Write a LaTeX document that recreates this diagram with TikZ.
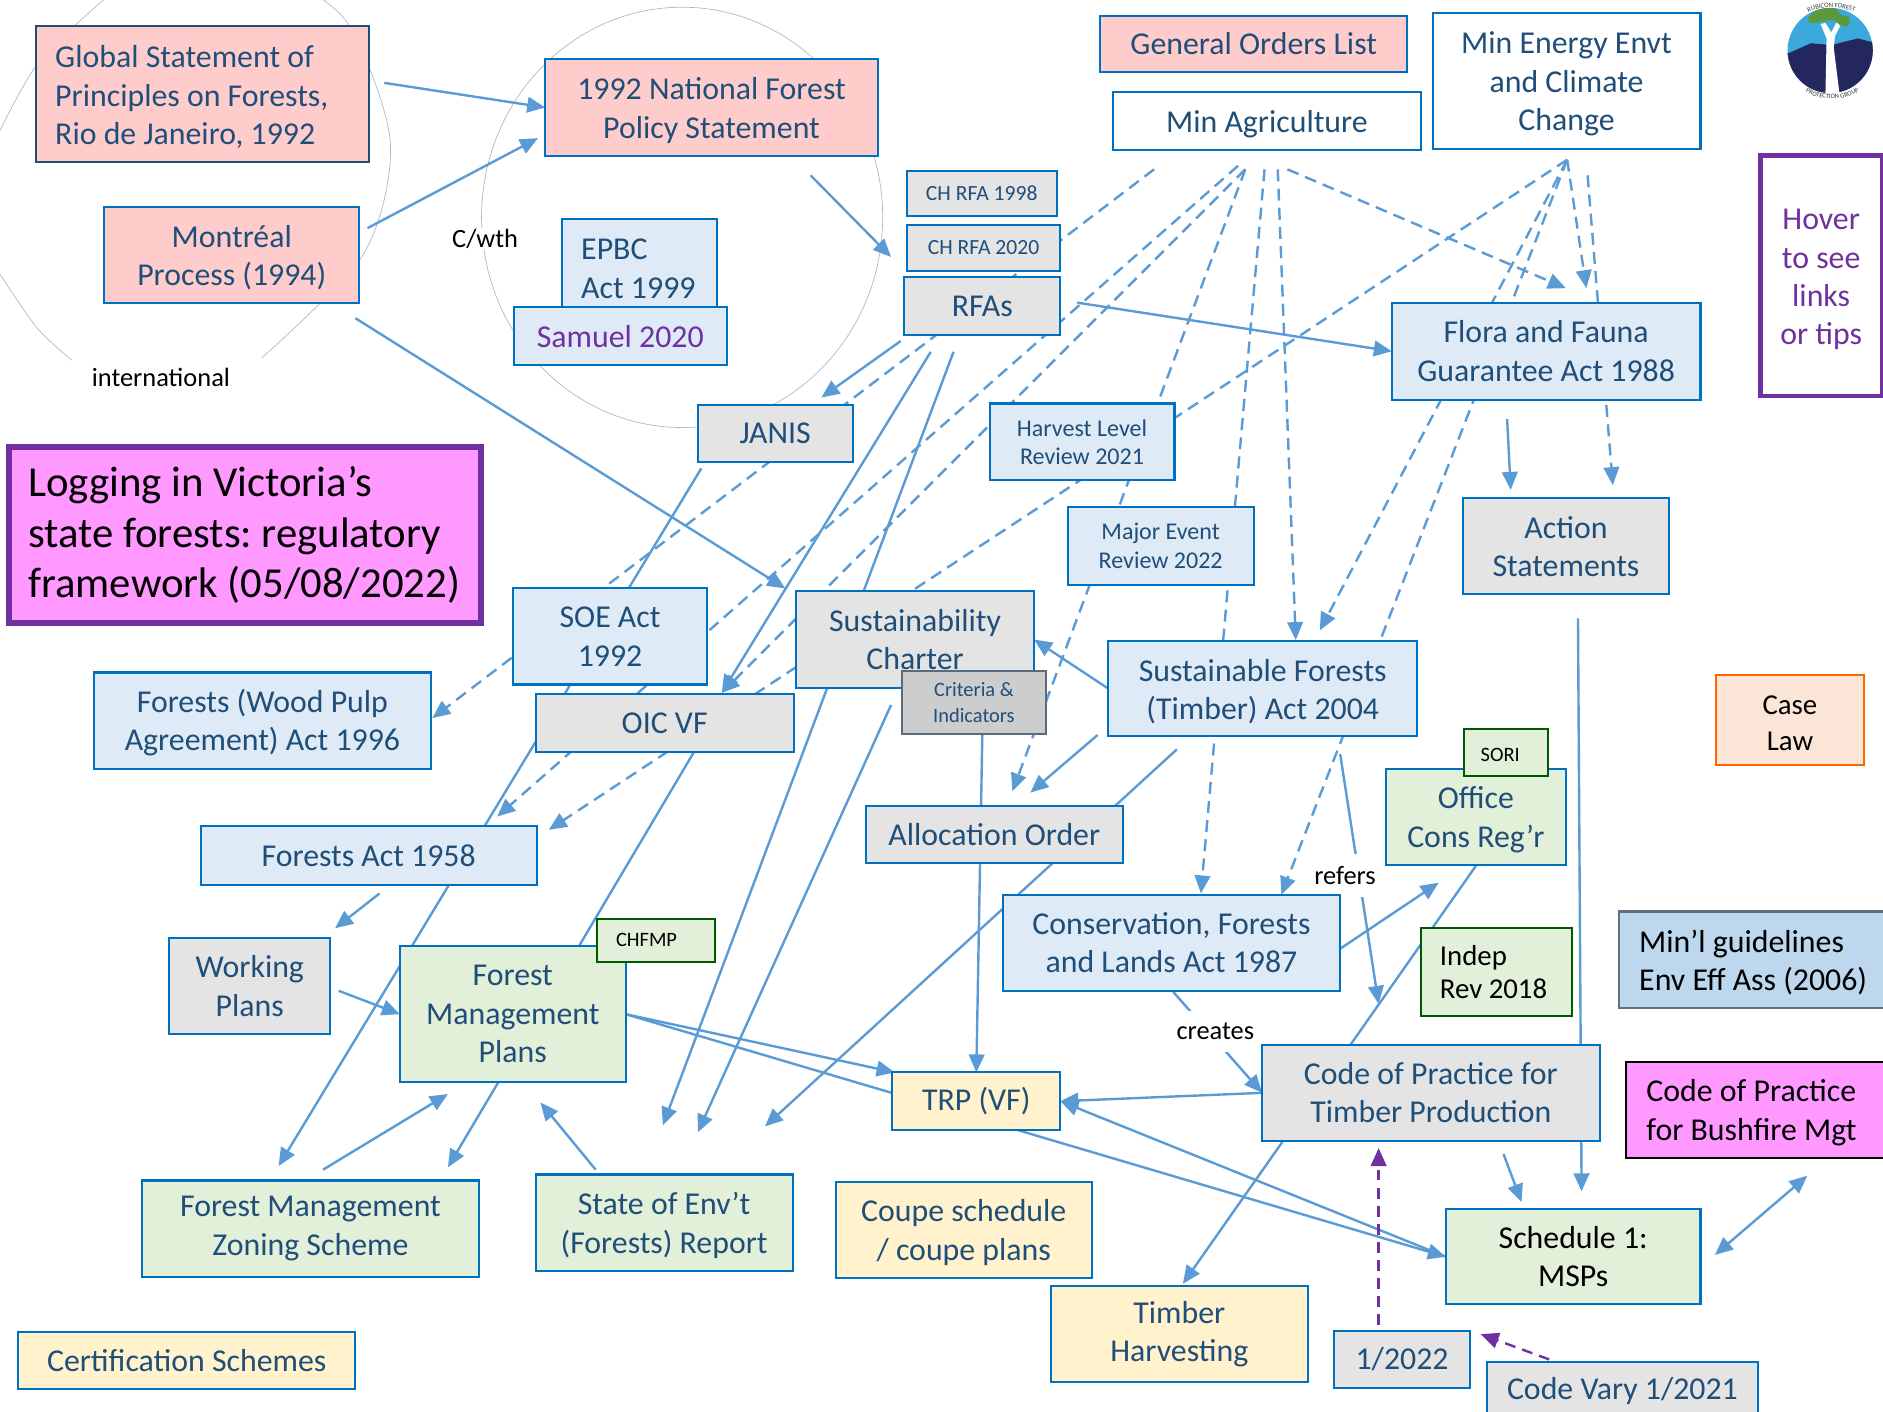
\documentclass[tikz,border=0pt]{standalone}
\usepackage{fontspec}
\setmainfont{Carlito}
\usetikzlibrary{arrows.meta,backgrounds,decorations.text}
\definecolor{txtblue}{HTML}{1F4E79}
\definecolor{edgeblue}{HTML}{0070C0}
\definecolor{arrowblue}{HTML}{5B9BD5}
\definecolor{purp}{HTML}{7030A0}
\definecolor{pinkfill}{HTML}{FFCCCC}
\definecolor{bluefill}{HTML}{DEEAF6}
\definecolor{greyfill}{HTML}{E4E4E4}
\definecolor{greenfill}{HTML}{E2EFD9}
\definecolor{yellowfill}{HTML}{FFF2CC}
\definecolor{magfill}{HTML}{FF99FF}
\definecolor{peachfill}{HTML}{FBE5D6}
\definecolor{midblue}{HTML}{BDD7EE}
\definecolor{ringcol}{HTML}{A9BCCF}
\definecolor{skycol}{HTML}{3BA9DC}
\definecolor{hillcol}{HTML}{24275E}
\definecolor{leafcol}{HTML}{5A9A3C}
\newcommand{\lnn}[1]{\mbox{\spaceskip=0pt \xspaceskip=0pt \frenchspacing #1}}
\newcommand{\dn}{\rule{0pt}{\dimexpr 0.78em+2.5pt\relax}}
\newcommand{\boxn}[7]{%
  \pgfmathsetmacro\bxw{#5-#3}%
  \pgfmathsetmacro\bxh{#6-#4}%
  \node[#1,minimum width=\bxw pt,minimum height=\bxh pt] (#2) at ({(#3+#5)/2},{(#4+#6)/2}) {#7};%
}
\tikzset{
  x=1pt,y=-1pt,
  base/.style={draw=edgeblue,line width=1.7pt,inner sep=0pt,outer sep=0pt,align=center,text=txtblue,
     font=\fontsize{26.5}{32}\selectfont},
  pinkb/.style={base,fill=pinkfill},
  blueb/.style={base,fill=bluefill},
  greyb/.style={base,fill=greyfill},
  greenb/.style={base,fill=greenfill},
  yellowb/.style={base,fill=yellowfill},
  whiteb/.style={base,fill=white},
  smallt/.style={font=\fontsize{20}{23.5}\selectfont},
  lab/.style={fill=white,inner sep=2pt,text=black,font=\fontsize{22}{24}\selectfont},
  conn/.style={draw=arrowblue,line width=2pt,-{Triangle[length=15pt,width=13pt]}},
  plain/.style={draw=arrowblue,line width=2pt},
  dconn/.style={conn,dash pattern=on 10pt off 6pt},
  pconn/.style={draw=purp,line width=2pt,dash pattern=on 9pt off 6pt,-{Triangle[length=15pt,width=13pt]}},
  ring/.style={draw=ringcol,line width=0.6pt},
}
\begin{document}
\begin{tikzpicture}
\useasboundingbox (0,0) rectangle (1568,1175);
% free labels
\node[lab,inner sep=1pt] (cwth) at (404,199) {C/wth};
\node[lab,fill=none] (intl) at (134,314) {international};
\node[lab,inner xsep=3pt,inner ysep=10pt] (refers) at (1120,729) {refers};
\node[lab,inner xsep=3pt,inner ysep=10pt] (creates) at (1012,859) {creates};
% boxes
\boxn{pinkb,draw=txtblue,text width=245pt,align=left}{globalst}{30}{22}{307}{135}{\dn\lnn{Global Statement of}\\\lnn{Principles on Forests,}\\\lnn{Rio de Janeiro, 1992}}
\boxn{pinkb}{nfps}{454}{49}{731}{130}{\dn 1992 National Forest\\Policy Statement}
\boxn{pinkb}{montreal}{87}{172}{299}{252}{\dn Montréal\\Process (1994)}
\boxn{pinkb}{genorders}{916}{13}{1172}{60}{General Orders List}
\boxn{whiteb}{minag}{927}{77}{1183}{125}{\dn Min Agriculture}
\boxn{whiteb}{minenergy}{1193}{11}{1416}{124}{\dn Min Energy Envt\\and Climate\\Change}
\boxn{greyb,font=\fontsize{18}{24}\selectfont}{chrfaa}{755}{142}{880}{180}{CH RFA 1998}
\boxn{greyb,font=\fontsize{18}{24}\selectfont}{chrfab}{755}{187}{883}{226}{CH RFA 2020}
\boxn{greyb}{rfas}{753}{231}{883}{279}{RFAs}
\boxn{blueb,text width=97pt,align=left}{epbc}{468}{182}{597}{260}{\dn\lnn{EPBC}\\\lnn{Act 1999}}
\boxn{blueb,text=purp}{samuel}{428}{256}{605}{304}{Samuel 2020}
\boxn{greyb}{janis}{581}{337}{710}{385}{JANIS}
\boxn{base,fill=magfill,draw=purp,line width=5pt,text=black,font=\fontsize{35.6}{42}\selectfont,text width=361pt,align=left}{title}{7.5}{372.5}{400.5}{518.5}{\lnn{Logging in Victoria’s}\\\lnn{state forests: regulatory}\\\lnn{framework (05/08/2022)}}
\boxn{blueb,smallt}{harvest}{824}{336}{978}{400}{Harvest Level\\Review 2021}
\boxn{blueb,smallt}{majorev}{889}{422}{1044}{487}{Major Event\\Review 2022}
\boxn{blueb}{flora}{1159}{252}{1416}{333}{Flora and Fauna\\Guarantee Act 1988}
\boxn{greyb}{action}{1218}{415}{1390}{495}{Action\\Statements}
\boxn{base,fill=white,draw=purp,line width=3.5pt,text=purp}{hover}{1466}{129.5}{1567}{330}{\dn Hover\\to see\\links\\or tips}
\boxn{blueb}{soe}{427}{490}{589}{570}{SOE Act\\1992}
\boxn{greyb}{charter}{663}{492}{861}{573}{Sustainability\\Charter}
\boxn{greyb,draw=gray!60!txtblue,fill=greyfill!90!black,font=\fontsize{17}{21}\selectfont}{criteria}{751}{559}{871}{611}{Criteria \&\\Indicators}
\boxn{blueb}{sfta}{923}{534}{1180}{613}{\dn Sustainable Forests\\(Timber) Act 2004}
\boxn{greyb}{oic}{446}{578}{661}{626}{OIC VF}
\boxn{blueb}{woodpulp}{78}{560}{359}{640}{\dn Forests (Wood Pulp\\Agreement) Act 1996}
\boxn{blueb}{forestsact}{167}{688}{447}{737}{Forests Act 1958}
\boxn{greyb}{alloc}{721}{671}{935}{719}{Allocation Order}
\boxn{greenb}{office}{1154}{640}{1304}{720}{\dn Office\\Cons Reg’r}
\boxn{greenb,draw=green!35!black,text=black,font=\fontsize{17}{21}\selectfont,text width=42pt,align=left}{sori}{1219}{607}{1289}{646}{\dn\lnn{SORI}}
\boxn{base,fill=peachfill,draw=orange!80!red,text=black,font=\fontsize{24}{30}\selectfont}{caselaw}{1429}{562}{1552}{637}{\dn Case\\Law}
\boxn{blueb}{cfla}{835}{745}{1116}{825}{Conservation, Forests\\and Lands Act 1987}
\boxn{greenb,draw=green!35!black,text=black,font=\fontsize{24}{28}\selectfont,text width=94pt,align=left}{indep}{1183}{773}{1309}{846}{\lnn{Indep}\\\lnn{Rev 2018}}
\boxn{base,fill=midblue,draw=gray!70!txtblue,text=black,text width=188pt,align=left}{minl}{1348}{759}{1570}{839}{\dn\lnn{Min’l guidelines}\\\lnn{Env Eff Ass (2006)}}
\boxn{greyb}{working}{141}{781}{275}{861}{Working\\Plans}
\boxn{greenb}{fmp}{333}{788}{521}{901}{Forest\\Management\\Plans}
\boxn{greenb,draw=green!35!black,text=black,font=\fontsize{17}{21}\selectfont,text width=66pt,align=left}{chfmp}{497}{765}{595}{801}{\lnn{CHFMP}}
\boxn{yellowb}{trp}{743}{893}{883}{941}{TRP (VF)}
\boxn{greyb}{cop}{1051}{870}{1332}{950}{Code of Practice for\\Timber Production}
\boxn{base,fill=magfill,draw=black,text=black,text width=182pt,align=left}{bushfire}{1354}{884}{1570}{964}{\dn\lnn{Code of Practice}\\\lnn{for Bushfire Mgt}}
\boxn{greenb}{fmzs}{118}{983}{399}{1063}{Forest Management\\Zoning Scheme}
\boxn{greenb}{soer}{446}{978}{660}{1058}{\dn State of Env’t\\(Forests) Report}
\boxn{yellowb}{coupe}{696}{984}{909}{1064}{\dn Coupe schedule\\/ coupe plans}
\boxn{greenb,text=black}{schedule}{1204}{1007}{1416}{1086}{Schedule 1:\\MSPs}
\boxn{yellowb}{timberh}{875}{1071}{1089}{1151}{Timber\\Harvesting}
\boxn{greyb}{jan22}{1111}{1108}{1224}{1156}{1/2022}
\boxn{greyb}{codevary}{1238}{1134}{1464}{1182}{Code Vary 1/2021}
\boxn{yellowb}{certif}{15}{1109}{296}{1157}{Certification Schemes}
% free ends of connectors
\coordinate (gsTail) at (320,69);
\coordinate (moTail) at (306,190);
\coordinate (nfHead) at (448,115);
\coordinate (nfTail) at (675,146);
\coordinate (rfaHead) at (742,214);
\coordinate (rfTail) at (897,252);
\coordinate (rjTail) at (750,284);
\coordinate (janHead) at (684,331);
\coordinate (mchTail) at (296,265);
\coordinate (chHead) at (654,490);
\coordinate (roTail) at (775,293);
\coordinate (oicHead) at (601,577);
\coordinate (rsTail) at (794,293);
\coordinate (soeA) at (552,937);
\coordinate (jaTail) at (584,390);
\coordinate (fmzA) at (232,971);
\coordinate (ofTail) at (578,626);
\coordinate (fmzB) at (373,972);
\coordinate (crTail) at (742,587);
\coordinate (soeB) at (581,943);
\coordinate (alTail) at (980,624);
\coordinate (soeC) at (637,938);
\coordinate (crDown) at (818,611);
\coordinate (sfaTail) at (914,612);
\coordinate (alHead) at (858,660);
\coordinate (cfTail) at (1116,790);
\coordinate (ofHead) at (1198,735);
\coordinate (rfStart) at (1116,628);
\coordinate (cpHeadA) at (1148,836);
\coordinate (crStart) at (977,826);
\coordinate (opTail) at (1229,721);
\coordinate (thHead) at (985,1069);
\coordinate (acTail) at (1314,515);
\coordinate (scHeadA) at (1317,992);
\coordinate (flTail) at (1255,349);
\coordinate (acHeadA) at (1258,408);
\coordinate (trpHeadB) at (745,893);
\coordinate (cpTail) at (1252,961);
\coordinate (scHeadB) at (1267,1001);
\coordinate (scSide) at (1428,1045);
\coordinate (bfSide) at (1505,979);
\coordinate (faTail) at (316,744);
\coordinate (woHead) at (279,773);
\coordinate (woTail) at (282,825);
\coordinate (zsTail) at (269,974);
\coordinate (fmHeadA) at (373,911);
\coordinate (srTail) at (496,974);
\coordinate (fmHeadB) at (450,918);
% dashed free ends
\coordinate (agA) at (961,141);
\coordinate (wpHead) at (360,598);
\coordinate (agB) at (1031,138);
\coordinate (faHeadA) at (414,680);
\coordinate (agC) at (1037,141);
\coordinate (alHeadB) at (843,659);
\coordinate (agD) at (1053,141);
\coordinate (cfHeadA) at (1000,744);
\coordinate (agE) at (1064,141);
\coordinate (sfHeadA) at (1079,533);
\coordinate (agF) at (1072,141);
\coordinate (flHeadA) at (1304,240);
\coordinate (enA) at (1305,133);
\coordinate (faHeadB) at (457,691);
\coordinate (sfHeadB) at (1099,525);
\coordinate (cfHeadB) at (1067,745);
\coordinate (flHeadB) at (1321,240);
\coordinate (enB) at (1322,146);
\coordinate (acHeadB) at (1343,404);
\coordinate (pA) at (1148,1103);
\coordinate (pAh) at (1148,956);
\coordinate (pB) at (1290,1132);
\coordinate (pBh) at (1233,1111);
\begin{scope}[on background layer]
% rings
\draw[ring] plot[smooth] coordinates {(-8,125) (30,55) (86,0) (110,-15)};
\draw[ring] plot[smooth] coordinates {(240,-18) (290,20) (325,118) (303,211) (218,298)};
\draw[ring] plot[smooth] coordinates {(-8,216) (30,272) (60,300)};
\draw[ring] (568,181) ellipse[x radius=167,y radius=175];
% solid connectors
\draw[conn] (gsTail) -- (nfps.west);
\draw[conn] (moTail) -- (nfHead);
\draw[conn] (nfTail) -- (rfaHead);
\draw[conn] (rfTail) -- (flora.west);
\draw[conn] (rjTail) -- (janHead);
\draw[conn] (mchTail) -- (chHead);
\draw[conn] (roTail) -- (oicHead);
\draw[conn] (rsTail) -- (soeA);
\draw[conn] (jaTail) -- (fmzA);
\draw[conn] (ofTail) -- (fmzB);
\draw[conn] (crTail) -- (soeB);
\draw[conn] (alTail) -- (soeC);
\draw[conn] (crDown) -- (trp.north);
\draw[conn] (sfaTail) -- (alHead);
\draw[conn] (sfta.west) -- (charter.east);
\draw[conn] (cfTail) -- (ofHead);
\draw[conn] (rfStart) -- (cpHeadA);
\draw[conn] (crStart) -- (cop.west);
\draw[conn] (opTail) -- (thHead);
\draw[conn] (acTail) -- (scHeadA);
\draw[conn] (flTail) -- (acHeadA);
\draw[conn] (cop.west) -- (trp.east);
\draw[conn] (schedule.west) -- (trp.east);
\draw[conn] (fmp.east) -- (schedule.west);
\draw[conn] (fmp.east) -- (trpHeadB);
\draw[conn] (cpTail) -- (scHeadB);
\draw[conn,{Triangle[length=15pt,width=13pt]}-{Triangle[length=15pt,width=13pt]}] (scSide) -- (bfSide);
\draw[conn] (faTail) -- (woHead);
\draw[conn] (woTail) -- (fmp.west);
\draw[conn] (zsTail) -- (fmHeadA);
\draw[conn] (srTail) -- (fmHeadB);
% dashed connectors
\draw[dconn] (agA) -- (wpHead);
\draw[dconn] (agB) -- (faHeadA);
\draw[dconn] (agC) -- (oicHead);
\draw[dconn] (agC) -- (alHeadB);
\draw[dconn] (agD) -- (cfHeadA);
\draw[dconn] (agE) -- (sfHeadA);
\draw[dconn] (agF) -- (flHeadA);
\draw[dconn] (enA) -- (faHeadB);
\draw[dconn] (enA) -- (sfHeadB);
\draw[dconn] (enA) -- (cfHeadB);
\draw[dconn] (enA) -- (flHeadB);
\draw[dconn] (enB) -- (acHeadB);
\draw[pconn] (pA) -- (pAh);
\draw[pconn] (pB) -- (pBh);
\end{scope}
% logo
\begin{scope}
\clip (1524,42) circle[radius=35.5];
\fill[skycol] (1480,0) rectangle (1570,85);
\fill[hillcol] (1485,45) -- (1490,44) -- (1508,36) -- (1525,37.5) -- (1547,32) -- (1562,36) -- (1565,85) -- (1485,85) -- cycle;
\end{scope}
\fill[white] (1520,80) -- (1532,80) -- (1527,40) -- (1528,30) -- (1533,20) -- (1529,19) -- (1525,27) -- (1520,19) -- (1516,20) -- (1521,32) -- cycle;
\fill[leafcol] plot[smooth cycle] coordinates {(1505.6,15) (1514,8) (1528,7) (1533,12.5) (1539.5,14) (1539.5,21) (1532,21) (1528,17) (1517,18) (1508,19.5)};
\path[decorate,decoration={text along path,text align=center,text={|\fontsize{5.5}{6}\selectfont\color{black!80}|RUBICON FOREST}}] (1494,19) .. controls (1508,2) and (1542,2) .. (1556,19);
\path[decorate,decoration={text along path,text align=center,text={|\fontsize{5.5}{6}\selectfont\color{black!80}|PROTECTION GROUP}}] (1494,68) .. controls (1508,87) and (1542,87) .. (1558,68);
\end{tikzpicture}
\end{document}
